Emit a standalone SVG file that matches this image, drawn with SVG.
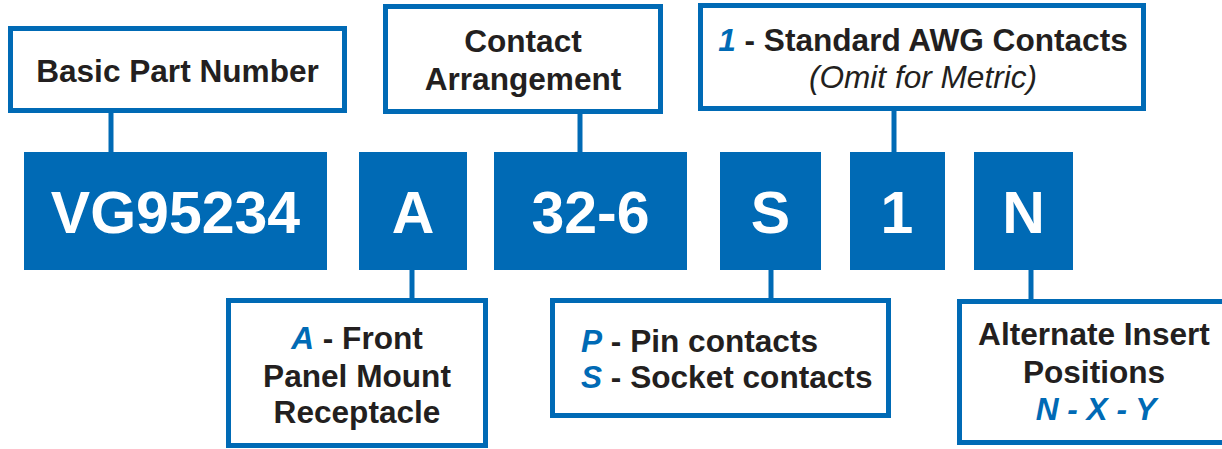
<svg xmlns="http://www.w3.org/2000/svg" width="1222" height="449" viewBox="0 0 1222 449">
<style>
.lbl{fill:#fff;stroke:#006ab5;stroke-width:5}
.code{fill:#006ab5}
.ct{font-family:"Liberation Sans",Arial,sans-serif;font-weight:bold;font-size:59px;fill:#fff;text-anchor:middle}
.t{font-family:"Liberation Sans",Arial,sans-serif;font-weight:bold;font-size:31.6px;fill:#231f20}
.m{text-anchor:middle}
.b{fill:#006ab5;font-style:italic}
.it{font-weight:normal;font-style:italic}
.con{stroke:#006ab5;stroke-width:5;fill:none}
</style>
<g id="connectors">
<line class="con" x1="111" y1="112" x2="111" y2="153"/>
<line class="con" x1="580" y1="113" x2="580" y2="153"/>
<line class="con" x1="894" y1="110" x2="894" y2="153"/>
<line class="con" x1="412" y1="268" x2="412" y2="299"/>
<line class="con" x1="771" y1="268" x2="771" y2="299"/>
<line class="con" x1="1031" y1="268" x2="1031" y2="300"/>
</g>
<g id="basic-label">
<rect class="lbl" x="10.5" y="28.5" width="334" height="82"/>
<text class="t m" x="177.5" y="82">Basic Part Number</text>
</g>
<g id="contact-label">
<rect class="lbl" x="385.5" y="6.5" width="275" height="105"/>
<text class="t m" x="523" y="52">Contact</text>
<text class="t m" x="523" y="90">Arrangement</text>
</g>
<g id="awg-label">
<rect class="lbl" x="700.5" y="5.5" width="443" height="103"/>
<text class="t m" x="923" y="51"><tspan class="b">1</tspan> - Standard AWG Contacts</text>
<text class="t m it" x="923" y="88">(Omit for Metric)</text>
</g>
<g id="vg95234"><rect class="code" x="24" y="152" width="303" height="118"/><text class="ct" x="175.5" y="233">VG95234</text></g>
<g id="a"><rect class="code" x="359" y="152" width="108" height="118"/><text class="ct" x="413" y="233">A</text></g>
<g id="n32-6"><rect class="code" x="494" y="152" width="193" height="118"/><text class="ct" x="590.5" y="233">32-6</text></g>
<g id="s"><rect class="code" x="720" y="152" width="101" height="118"/><text class="ct" x="770.5" y="233">S</text></g>
<g id="one"><rect class="code" x="850" y="152" width="95" height="118"/><text class="ct" x="897" y="233">1</text></g>
<g id="n"><rect class="code" x="974" y="152" width="99" height="118"/><text class="ct" x="1023.5" y="233">N</text></g>
<g id="mount-label">
<rect class="lbl" x="228.5" y="300.5" width="257" height="145"/>
<text class="t m" x="357" y="349"><tspan class="b">A</tspan> - Front</text>
<text class="t m" x="357" y="387">Panel Mount</text>
<text class="t m" x="357" y="423">Receptacle</text>
</g>
<g id="contacts-label">
<rect class="lbl" x="552.5" y="300.5" width="336" height="115"/>
<text class="t" x="581" y="352"><tspan class="b">P</tspan> - Pin contacts</text>
<text class="t" x="581" y="388"><tspan class="b">S</tspan> - Socket contacts</text>
</g>
<g id="alt-label">
<rect class="lbl" x="959.5" y="301.5" width="280" height="141"/>
<text class="t m" x="1094" y="345">Alternate Insert</text>
<text class="t m" x="1094" y="383">Positions</text>
<text class="t m b" x="1096" y="420">N - X - Y</text>
</g>
</svg>
